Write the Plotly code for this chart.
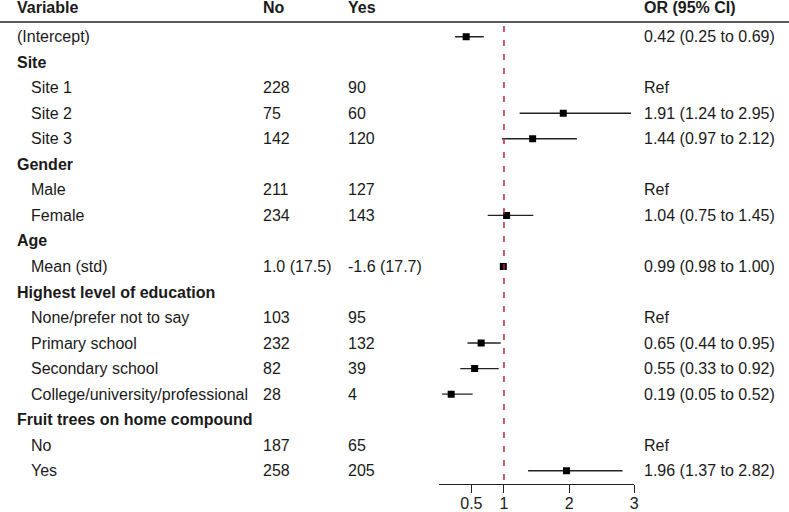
import plotly.graph_objects as go

# ---- data ----
variables = ["(Intercept)", "Site", "Site 1", "Site 2", "Site 3", "Gender", "Male", "Female",
             "Age", "Mean (std)", "Highest level of education", "None/prefer not to say",
             "Primary school", "Secondary school", "College/university/professional",
             "Fruit trees on home compound", "No", "Yes"]
group_rows = ["Site", "Gender", "Age", "Highest level of education", "Fruit trees on home compound"]
no_counts = ["", "", "228", "75", "142", "", "211", "234", "", "1.0 (17.5)", "", "103", "232",
             "82", "28", "", "187", "258"]
yes_counts = ["", "", "90", "60", "120", "", "127", "143", "", "-1.6 (17.7)", "", "95", "132",
              "39", "4", "", "65", "205"]
or_text = ["0.42 (0.25 to 0.69)", "", "Ref", "1.91 (1.24 to 2.95)", "1.44 (0.97 to 2.12)", "",
           "Ref", "1.04 (0.75 to 1.45)", "", "0.99 (0.98 to 1.00)", "", "Ref",
           "0.65 (0.44 to 0.95)", "0.55 (0.33 to 0.92)", "0.19 (0.05 to 0.52)", "", "Ref",
           "1.96 (1.37 to 2.82)"]
or_vals = [0.42, None, None, 1.91, 1.44, None, None, 1.04, None, 0.99, None, None, 0.65, 0.55,
           0.19, None, None, 1.96]
ci_low = [0.25, None, None, 1.24, 0.97, None, None, 0.75, None, 0.98, None, None, 0.44, 0.33,
          0.05, None, None, 1.37]
ci_high = [0.69, None, None, 2.95, 2.12, None, None, 1.45, None, 1.00, None, None, 0.95, 0.92,
           0.52, None, None, 2.82]
x_ticks = [0.5, 1, 2, 3]
x_tick_labels = ["0.5", "1", "2", "3"]
headers = ["Variable", "No", "Yes", "OR (95% CI)"]

W, H = 789, 512
FONT = "Arial, Liberation Sans, sans-serif"
TXT = "#1a1a1a"

rows = list(range(len(variables)))
pts_y = [r for r, v in zip(rows, or_vals) if v is not None]
pts_x = [v for v in or_vals if v is not None]
plus = [h - v for h, v in zip(ci_high, or_vals) if v is not None]
minus = [v - l for l, v in zip(ci_low, or_vals) if v is not None]

fig = go.Figure()
fig.add_trace(go.Scatter(
    x=pts_x, y=pts_y, mode="markers",
    marker=dict(symbol="square", size=7, color="black"),
    error_x=dict(type="data", symmetric=False, array=plus, arrayminus=minus,
                 thickness=1.4, width=0, color="#222222"),
    showlegend=False, hoverinfo="skip"))

# reference line at OR = 1
fig.add_shape(type="line", x0=1, x1=1, y0=-0.42, y1=17.52, xref="x", yref="y",
              line=dict(color="#B02A3C", width=1.5, dash="6px,8px"))
# header underline
fig.add_shape(type="line", x0=0, x1=1, y0=-0.575, y1=-0.575, xref="paper", yref="y",
              line=dict(color="#222222", width=1.5))

col_x = [15, 261, 346, 642]
header_y = -1.13
for hx, ht in zip(col_x, headers):
    fig.add_annotation(x=hx / W, y=header_y, xref="paper", yref="y", text="<b>%s</b>" % ht,
                       showarrow=False, xanchor="left", yanchor="middle",
                       font=dict(family=FONT, size=16, color=TXT))

for r, name in zip(rows, variables):
    if name in group_rows:
        t, x0 = "<b>%s</b>" % name, 15
    elif name == "(Intercept)":
        t, x0 = name, 15
    else:
        t, x0 = name, 29
    fig.add_annotation(x=x0 / W, y=r, xref="paper", yref="y", text=t, showarrow=False,
                       xanchor="left", yanchor="middle", font=dict(family=FONT, size=16, color=TXT))
    for cx, col in zip(col_x[1:], (no_counts, yes_counts, or_text)):
        if col[r]:
            fig.add_annotation(x=cx / W, y=r, xref="paper", yref="y", text=col[r],
                               showarrow=False, xanchor="left", yanchor="middle",
                               font=dict(family=FONT, size=16, color=TXT))

fig.update_layout(
    width=W, height=H, margin=dict(l=0, r=0, t=0, b=0, pad=0, autoexpand=False),
    plot_bgcolor="white", paper_bgcolor="white",
    xaxis=dict(domain=[438.8 / W, 634.3 / W], range=[0, 3], tickvals=x_ticks,
               ticktext=x_tick_labels, showgrid=False, zeroline=False, showline=True,
               linecolor="#222222", linewidth=1.3, ticks="outside", ticklen=8,
               tickwidth=1.3, tickcolor="#222222", automargin=False, ticklabelstandoff=-3,
               tickfont=dict(family=FONT, size=16, color=TXT)),
    yaxis=dict(domain=[(H - 484) / H, 1], range=[17.52, -1.4375], showgrid=False,
               zeroline=False, showticklabels=False, showline=False, automargin=False),
)

fig.write_html("out.html")
